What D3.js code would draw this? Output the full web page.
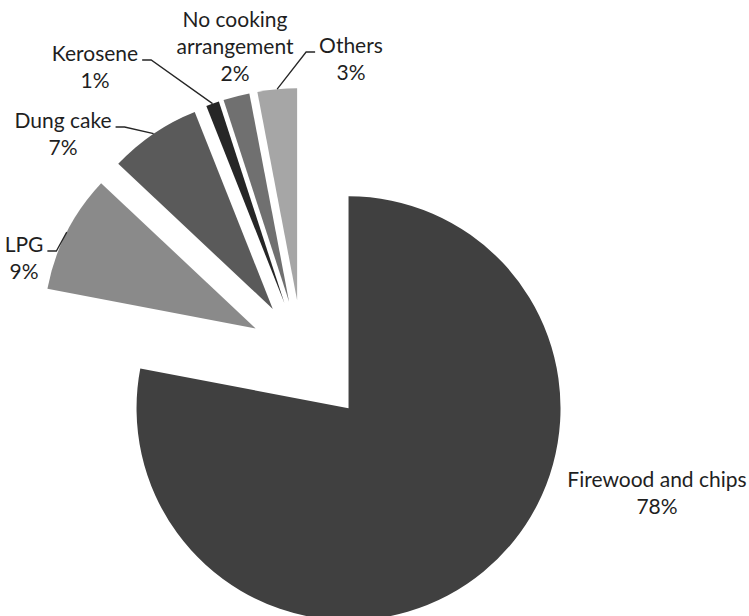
<!DOCTYPE html>
<html>
<head>
<meta charset="utf-8">
<script src="https://cdn.jsdelivr.net/npm/d3@7"></script>
<style>
  html, body { margin: 0; padding: 0; background: #ffffff; }
  svg { display: block; }
  text { font-family: Lato, "Open Sans", sans-serif; fill: #1f1f1f; }
</style>
</head>
<body>
<svg id="chart" width="749" height="616"></svg>
<script>
// Household cooking fuel shares (%)
const categories = ["Firewood and chips", "LPG", "Dung cake", "Kerosene", "No cooking arrangement", "Others"];
const shares = [78, 9, 7, 1, 2, 3];
const labelLines = [["Firewood and chips"], ["LPG"], ["Dung cake"], ["Kerosene"], ["No cooking", "arrangement"], ["Others"]];
const sliceColors = ["#404040", "#8a8a8a", "#5a5a5a", "#262626", "#707070", "#a6a6a6"];

// Layout
const W = 749, H = 616;
const cx = 302, cy = 352, radius = 212;
const explodeMain = 73, explodeSmall = 52;
const fontSize = 21, lineHeight = 27;
// label anchor: centre x, first baseline y, leader side (+1 right, -1 left, 0 none)
const labelPos = [
  { x: 657, y: 487, side: 0 },
  { x: 24,  y: 252, side: 1 },
  { x: 63,  y: 128, side: 1 },
  { x: 95,  y: 61,  side: 1 },
  { x: 235, y: 27,  side: 0 },
  { x: 351, y: 53,  side: -1 }
];

const svg = d3.select("#chart");
const g = svg.append("g").attr("transform", `translate(${cx},${cy})`);

const pie = d3.pie().sort(null).value(d => d).startAngle(0).endAngle(2 * Math.PI);
const arcs = pie(shares);
const arc = d3.arc().innerRadius(0).outerRadius(radius);

function offsetOf(a, i) {
  const mid = (a.startAngle + a.endAngle) / 2;
  const d = i === 0 ? explodeMain : explodeSmall;
  return [Math.sin(mid) * d, -Math.cos(mid) * d];
}

g.selectAll("path.slice")
  .data(arcs)
  .join("path")
  .attr("class", "slice")
  .attr("d", arc)
  .attr("fill", (d, i) => sliceColors[i])
  .attr("transform", (d, i) => {
    const [ox, oy] = offsetOf(d, i);
    return `translate(${ox},${oy})`;
  });

// Labels with elbow leader lines
const labels = svg.append("g");
arcs.forEach((a, i) => {
  const p = labelPos[i];
  const t = labels.append("text")
    .attr("text-anchor", "middle")
    .attr("font-size", fontSize)
    .attr("x", p.x)
    .attr("y", p.y);
  const lines = labelLines[i].concat([shares[i] + "%"]);
  lines.forEach((ln, k) => {
    t.append("tspan").attr("x", p.x).attr("y", p.y + k * lineHeight).text(ln);
  });

  if (p.side !== 0) {
    const w = t.select("tspan").node().getComputedTextLength();
    const sx = p.x + p.side * (w / 2 + 4);
    const sy = p.y - 1;
    const ex = sx + p.side * 9;
    const mid = (a.startAngle + a.endAngle) / 2;
    const [ox, oy] = offsetOf(a, i);
    const tx = cx + ox + Math.sin(mid) * radius;
    const ty = cy + oy - Math.cos(mid) * radius;
    labels.append("polyline")
      .attr("points", `${sx},${sy} ${ex},${sy} ${tx},${ty}`)
      .attr("fill", "none")
      .attr("stroke", "#262626")
      .attr("stroke-width", 1.3);
  }
});
</script>
</body>
</html>
